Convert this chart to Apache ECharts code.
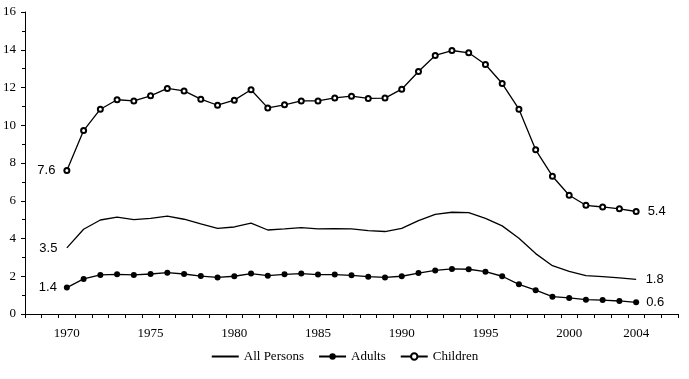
<!DOCTYPE html>
<html>
<head>
<meta charset="utf-8">
<script src="https://cdn.jsdelivr.net/npm/echarts@6/dist/echarts.min.js"></script>
<style>
  html, body { margin: 0; padding: 0; background: #fff; }
  #main { width: 689px; height: 379px; }
</style>
</head>
<body>
<div id="main"></div>
<script>
// axis runs 1968..2006 with ticks between years, data covers 1970..2004
var years = [];
for (var y = 1968; y <= 2006; y++) years.push(String(y));
var shownYears = ['1970', '1975', '1980', '1985', '1990', '1995', '2000', '2004'];

var dataYears = ['1970','1971','1972','1973','1974','1975','1976','1977','1978','1979',
                 '1980','1981','1982','1983','1984','1985','1986','1987','1988','1989',
                 '1990','1991','1992','1993','1994','1995','1996','1997','1998','1999',
                 '2000','2001','2002','2003','2004'];

var allPersons = [3.5, 4.49, 4.98, 5.13, 5.0, 5.07, 5.18, 5.02, 4.77, 4.54,
                  4.61, 4.81, 4.45, 4.51, 4.58, 4.51, 4.52, 4.51, 4.42, 4.37,
                  4.54, 4.95, 5.28, 5.39, 5.37, 5.07, 4.67, 4.01, 3.2, 2.56,
                  2.26, 2.03, 1.98, 1.91, 1.83];

var adults = [1.4, 1.86, 2.07, 2.1, 2.07, 2.12, 2.19, 2.12, 2.01, 1.94,
              2.0, 2.14, 2.03, 2.1, 2.14, 2.09, 2.09, 2.05, 1.98, 1.94,
              2.0, 2.17, 2.31, 2.39, 2.37, 2.24, 2.0, 1.57, 1.26, 0.92,
              0.85, 0.76, 0.74, 0.69, 0.62];

var children = [7.6, 9.72, 10.85, 11.35, 11.29, 11.56, 11.95, 11.82, 11.38, 11.06,
                11.33, 11.88, 10.92, 11.08, 11.29, 11.29, 11.45, 11.54, 11.42, 11.44,
                11.91, 12.85, 13.7, 13.96, 13.84, 13.22, 12.21, 10.85, 8.7, 7.3,
                6.29, 5.76, 5.67, 5.57, 5.43];

// 首尾两个点显示数值
function buildData(vals, dist) {
    var last = vals.length - 1;
    return vals.map(function (v, i) {
        var item = { value: [dataYears[i], v] };
        if (i === 0 || i === last) {
            item.label = {
                show: true,
                position: i === 0 ? 'left' : 'right',
                distance: dist,
                fontFamily: 'Liberation Sans',
                fontSize: 13,
                color: '#000',
                formatter: function () { return v.toFixed(1); }
            };
        }
        return item;
    });
}

var myChart = echarts.init(document.getElementById('main'));

option = {
    animation: false,
    backgroundColor: '#fff',
    textStyle: { fontFamily: 'Liberation Serif', color: '#000' },
    grid: { left: 24, right: 11, top: 12, bottom: 65 },
    legend: {
        bottom: 11,
        left: 'center',
        itemWidth: 27,
        itemHeight: 8,
        itemGap: 14,
        textStyle: { fontFamily: 'Liberation Serif', fontSize: 13, color: '#000' },
        data: [
            { name: 'All Persons', itemStyle: { opacity: 0 } },
            { name: 'Adults' },
            { name: 'Children' }
        ]
    },
    xAxis: {
        type: 'category',
        data: years,
        boundaryGap: true,
        axisLine: { show: true, lineStyle: { color: '#000', width: 1 } },
        axisTick: { show: true, interval: 0, length: 4, lineStyle: { color: '#000' } },
        axisLabel: {
            interval: function (index, value) { return shownYears.indexOf(value) >= 0; },
            margin: 13,
            fontFamily: 'Liberation Serif',
            fontSize: 13,
            color: '#000'
        },
        splitLine: { show: false }
    },
    yAxis: {
        type: 'value',
        min: 0,
        max: 16,
        interval: 2,
        axisLine: { show: true, lineStyle: { color: '#000', width: 1 } },
        axisTick: { show: true, length: 4, lineStyle: { color: '#000' } },
        minorTick: { show: true, splitNumber: 2, length: 3, lineStyle: { color: '#000' } },
        axisLabel: { margin: 9, fontFamily: 'Liberation Serif', fontSize: 13, color: '#000' },
        splitLine: { show: false }
    },
    series: [
        {
            name: 'All Persons',
            type: 'line',
            symbol: 'circle',
            symbolSize: 1,
            itemStyle: { color: 'rgba(0,0,0,0)' },
            lineStyle: { color: '#000', width: 1.3 },
            data: buildData(allPersons, 9)
        },
        {
            name: 'Adults',
            type: 'line',
            symbol: 'circle',
            symbolSize: 6,
            lineStyle: { color: '#000', width: 1.3 },
            itemStyle: { color: '#000' },
            data: buildData(adults, 7)
        },
        {
            name: 'Children',
            type: 'line',
            symbol: 'emptyCircle',
            symbolSize: 5,
            lineStyle: { color: '#000', width: 1.3 },
            itemStyle: { color: '#000', borderWidth: 1 },
            data: buildData(children, 8)
        }
    ]
};

myChart.setOption(option);
</script>
</body>
</html>
